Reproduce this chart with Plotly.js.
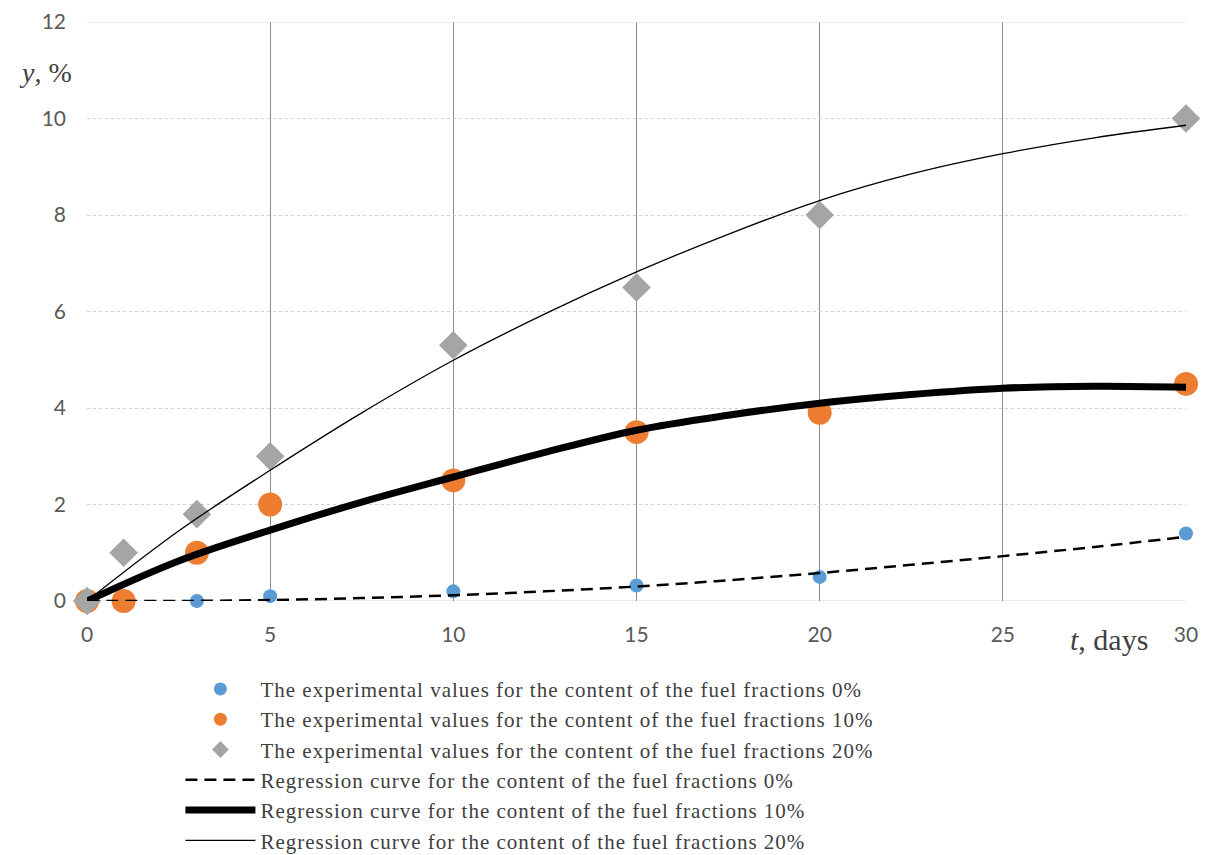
<!DOCTYPE html>
<html><head><meta charset="utf-8">
<script src="https://cdn.plot.ly/plotly-3.0.1.min.js"></script>
<style>body{margin:0;background:#fff}#c{width:1209px;height:855px}.legendtext{letter-spacing:1px}</style>
</head><body><div id="c"></div>
<script>
// Experimental data
const t0 = [0, 3, 5, 10, 15, 20, 30];
const y0 = [0, 0, 0.1, 0.2, 0.32, 0.5, 1.4];
const t10 = [0, 1, 3, 5, 10, 15, 20, 30];
const y10 = [0, 0, 1.0, 2.0, 2.5, 3.5, 3.9, 4.5];
const t20 = [0, 1, 3, 5, 10, 15, 20, 30];
const y20 = [0, 1.0, 1.8, 3.0, 5.3, 6.5, 8.0, 10.0];
// Regression curves
const tc = [0, 2.5, 5, 7.5, 10, 12.5, 15, 17.5, 20, 22.5, 25, 27.5, 30];
const c0 = [0, 0.0, 0.02, 0.06, 0.12, 0.2, 0.3, 0.43, 0.58, 0.75, 0.93, 1.12, 1.33];
const c10 = [0, 0.83, 1.47, 2.05, 2.57, 3.08, 3.54, 3.85, 4.1, 4.28, 4.41, 4.45, 4.43];
const c20 = [0, 1.45, 2.71, 3.9, 4.99, 5.95, 6.82, 7.6, 8.3, 8.85, 9.27, 9.6, 9.86];
const xTicks = [0, 5, 10, 15, 20, 25, 30];
const yTicks = [0, 2, 4, 6, 8, 10, 12];
const names = [
  "The experimental values for the content of the fuel fractions 0%",
  "The experimental values for the content of the fuel fractions 10%",
  "The experimental values for the content of the fuel fractions 20%",
  "Regression curve for the content of the fuel fractions 0%",
  "Regression curve for the content of the fuel fractions 10%",
  "Regression curve for the content of the fuel fractions 20%"
];
const colors = ['#5B9BD5', '#ED7D31', '#A5A5A5'];
const symbols = ['circle', 'circle', 'diamond'];

const traces = [
  {x: t0, y: y0, name: names[0], mode: 'markers', type: 'scatter', cliponaxis: false, showlegend: false,
   marker: {color: colors[0], size: 14, symbol: symbols[0]}},
  {x: t10, y: y10, name: names[1], mode: 'markers', type: 'scatter', cliponaxis: false, showlegend: false,
   marker: {color: colors[1], size: 24, symbol: symbols[1]}},
  {x: t20, y: y20, name: names[2], mode: 'markers', type: 'scatter', cliponaxis: false, showlegend: false,
   marker: {color: colors[2], size: 22, symbol: symbols[2]}}
];
// legend entries for the marker series (uniform legend symbol size)
for (let i = 0; i < 3; i++) {
  traces.push({x: [null], y: [null], name: names[i], mode: 'markers', type: 'scatter',
               marker: {color: colors[i], size: 13, symbol: symbols[i]}});
}
traces.push(
  {x: tc, y: c0, name: names[3], mode: 'lines', type: 'scatter', line: {color: '#000', width: 2.5, dash: '12px,7px', shape: 'spline'}},
  {x: tc, y: c10, name: names[4], mode: 'lines', type: 'scatter', line: {color: '#000', width: 7, shape: 'spline'}},
  {x: tc, y: c20, name: names[5], mode: 'lines', type: 'scatter', line: {color: '#000', width: 1.3, shape: 'spline'}}
);

const tickFont = {family: 'Lato, "Liberation Sans", sans-serif', size: 21, color: '#595959'};
const layout = {
  width: 1209, height: 855,
  margin: {l: 87, r: 23, t: 22, b: 254, autoexpand: false},
  paper_bgcolor: '#fff', plot_bgcolor: '#fff',
  showlegend: true,
  legend: {x: 0.085, y: -0.117, xanchor: 'left', yanchor: 'top', bgcolor: 'rgba(0,0,0,0)',
           font: {family: '"Liberation Serif", serif', size: 21, color: '#404040'},
           itemwidth: 70, tracegroupgap: 0},
  xaxis: {range: [0, 30], tickvals: xTicks, showgrid: true, gridcolor: '#8c8c8c', gridwidth: 1,
          zeroline: false, showline: false, ticks: '', tickfont: tickFont, ticklabelstandoff: 19},
  yaxis: {range: [0, 12], tickvals: yTicks, showgrid: true, gridcolor: '#cfcfcf', griddash: 'dot', gridwidth: 1,
          zeroline: false, showline: false, ticks: '', tickfont: tickFont, ticklabelstandoff: 20},
  annotations: [
    {xref: 'paper', yref: 'paper', x: -0.038, y: 0.913, xanchor: 'center', yanchor: 'middle', showarrow: false,
     text: '<i>y</i>, %', font: {family: '"Liberation Serif", serif', size: 28, color: '#404040'}},
    {xref: 'paper', yref: 'paper', x: 0.967, y: -0.067, xanchor: 'right', yanchor: 'middle', showarrow: false,
     text: '<i>t</i>, days', font: {family: '"Liberation Serif", serif', size: 30, color: '#404040'}}
  ],
  shapes: [
    {type: 'line', xref: 'paper', yref: 'y', x0: 0, x1: 1, y0: 12, y1: 12, line: {color: '#d9d9d9', width: 1}},
    {type: 'line', xref: 'paper', yref: 'y', x0: 0, x1: 1, y0: 0, y1: 0, line: {color: '#d9d9d9', width: 1}, layer: 'below'}
  ]
};
Plotly.newPlot('c', traces, layout, {displayModeBar: false, staticPlot: true});
</script></body></html>
